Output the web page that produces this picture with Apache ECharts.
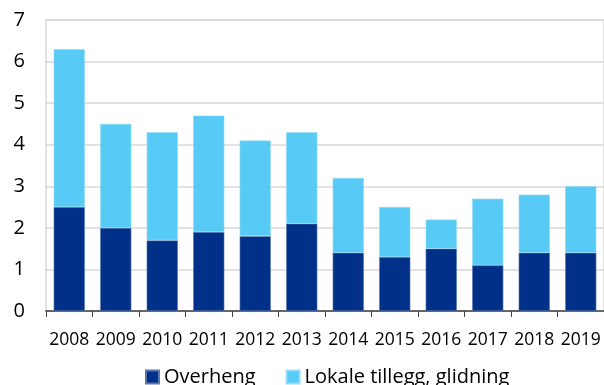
<!DOCTYPE html>
<html>
<head>
<meta charset="utf-8">
<script src="https://cdn.jsdelivr.net/npm/echarts@6/dist/echarts.min.js"></script>
<style>
  html, body { margin: 0; padding: 0; background: #fff; }
  #chart { width: 604px; height: 385px; }
</style>
</head>
<body>
<div id="chart"></div>
<script>
var years = ['2008', '2009', '2010', '2011', '2012', '2013', '2014', '2015', '2016', '2017', '2018', '2019'];
var overheng = [2.5, 2.0, 1.7, 1.9, 1.8, 2.1, 1.4, 1.3, 1.5, 1.1, 1.4, 1.4];
var lokaleTillegg = [3.8, 2.5, 2.6, 2.8, 2.3, 2.2, 1.8, 1.2, 0.7, 1.6, 1.4, 1.6];

var myChart = echarts.init(document.getElementById('chart'));
var font = '"Open Sans", "Noto Sans", sans-serif';

myChart.setOption({
    animation: false,
    textStyle: { fontFamily: font },
    grid: {
        left: 46,
        top: 20,
        width: 560,
        height: 291,
        show: true,
        borderColor: '#d9d9d9',
        borderWidth: 1.5
    },
    legend: {
        top: 362,
        left: 140,
        itemWidth: 13,
        itemHeight: 13,
        itemGap: 30,
        icon: 'rect',
        textStyle: { fontSize: 20, color: '#000', fontFamily: font },
        data: ['Overheng', 'Lokale tillegg, glidning']
    },
    xAxis: {
        type: 'category',
        data: years,
        axisLine: { lineStyle: { color: '#404040', width: 1.5 } },
        axisTick: { show: true, length: 6, lineStyle: { color: '#404040' } },
        axisLabel: { interval: 0, fontSize: 17.5, color: '#000', margin: 20 }
    },
    yAxis: {
        type: 'value',
        min: 0,
        max: 7,
        interval: 1,
        axisLine: { show: false },
        axisTick: { show: false },
        axisLabel: { fontSize: 20, color: '#000', margin: 21 },
        splitLine: { lineStyle: { color: '#d9d9d9', width: 1.5 } }
    },
    series: [
        {
            name: 'Overheng',
            type: 'bar',
            stack: 'lonn',
            barCategoryGap: '33%',
            data: overheng,
            itemStyle: { color: '#003087', borderColor: '#5a78b0', borderWidth: 0.6 }
        },
        {
            name: 'Lokale tillegg, glidning',
            type: 'bar',
            stack: 'lonn',
            data: lokaleTillegg,
            itemStyle: { color: '#4ec8f4', opacity: 0.95, borderColor: '#8fdcf8', borderWidth: 0.6 }
        }
    ]
});
</script>
</body>
</html>
